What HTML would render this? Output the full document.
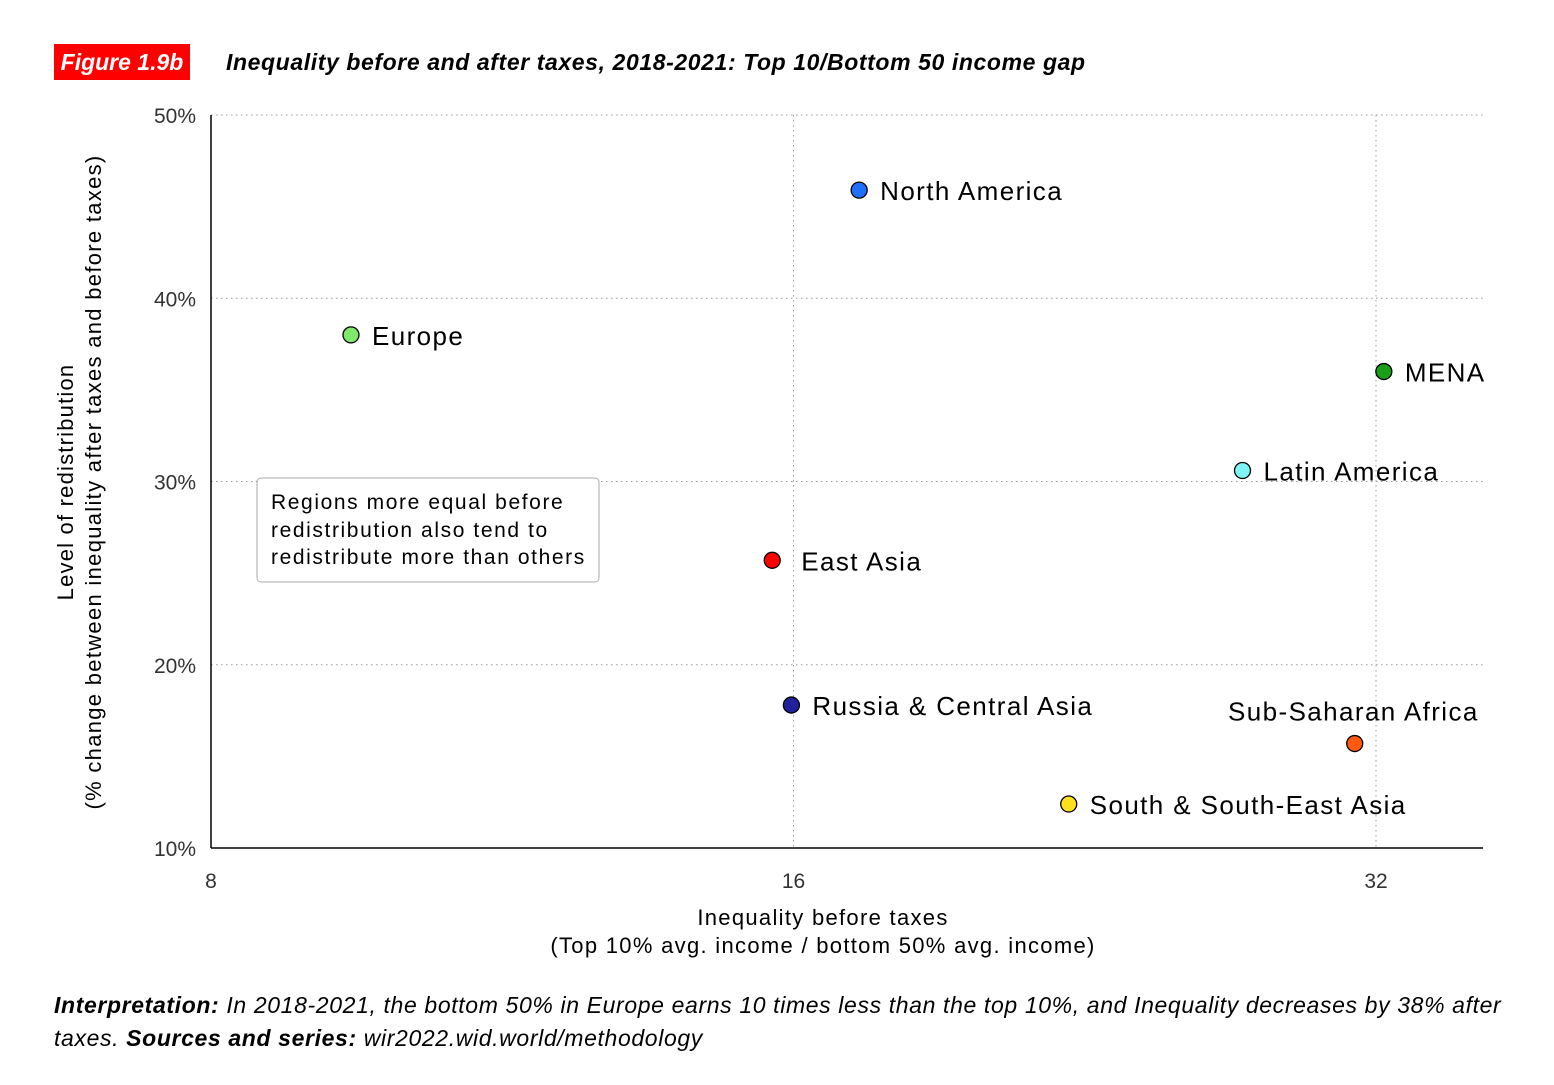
<!DOCTYPE html>
<html><head><meta charset="utf-8"><style>
body{margin:0;background:#fff;width:1554px;height:1085px;overflow:hidden;font-family:"Liberation Sans",sans-serif;}
svg{position:absolute;left:0;top:0}
</style></head><body>
<svg id="chart" width="1554" height="1085">
<rect x="54" y="44" width="136" height="36" fill="#ff0000"/>
<text x="122" y="70" fill="#fff" font-size="23" font-weight="bold" font-style="italic" text-anchor="middle">Figure 1.9b</text>
<text x="226" y="70" fill="#000" font-size="23" font-weight="bold" font-style="italic" letter-spacing="0.6">Inequality before and after taxes, 2018-2021: Top 10/Bottom 50 income gap</text>
<g id="grid"></g><g id="marks"></g>
<text transform="translate(73,482) rotate(-90)" font-size="22" letter-spacing="1.2" text-anchor="middle">Level of redistribution</text>
<text transform="translate(101,482) rotate(-90)" font-size="22" letter-spacing="1.3" text-anchor="middle">(% change between inequality after taxes and before taxes)</text>
<text x="823" y="925" font-size="22" letter-spacing="1.3" text-anchor="middle">Inequality before taxes</text>
<text x="823" y="953" font-size="22" letter-spacing="1.3" text-anchor="middle">(Top 10% avg. income / bottom 50% avg. income)</text>
<rect x="257" y="478" width="342" height="104" rx="4" fill="#fff" stroke="#aaa"/>
<text font-size="21" letter-spacing="1.6"><tspan x="271" y="509">Regions more equal before</tspan><tspan x="271" y="537">redistribution also tend to</tspan><tspan x="271" y="564">redistribute more than others</tspan></text>
<text font-size="23" font-style="italic" letter-spacing="0.63"><tspan x="54" y="1013"><tspan font-weight="bold">Interpretation:</tspan> In 2018-2021, the bottom 50% in Europe earns 10 times less than the top 10%, and Inequality decreases by 38% after</tspan><tspan x="54" y="1046">taxes. <tspan font-weight="bold">Sources and series:</tspan> wir2022.wid.world/methodology</tspan></text>
</svg>
<script>
const regions=["North America","Europe","MENA","Latin America","East Asia","Russia & Central Asia","Sub-Saharan Africa","South & South-East Asia"];
const xValues=[17.3,9.45,32.3,27.3,15.6,15.96,31.2,22.2];
const yValues=[45.9,38.0,36.0,30.6,25.7,17.8,15.7,12.4];
const colors=["#1f6fff","#7ee86a","#1a9e1a","#7ff2f2","#ff0000","#22209a","#ff5a10","#ffe01a"];
const xTicks=[8,16,32];
const yTicks=[10,20,30,40,50];
const NS="http://www.w3.org/2000/svg";
function X(v){return 211+582.5*Math.log2(v/8);}
function Y(v){return 848-(v-10)*733/40;}
function mk(t,a,p){const e=document.createElementNS(NS,t);for(const k in a)e.setAttribute(k,a[k]);p.appendChild(e);return e;}
const g=document.getElementById('grid'),m=document.getElementById('marks');
yTicks.forEach(v=>{
 if(v>10){const l=mk('line',{x1:211,x2:1483,y1:Y(v),y2:Y(v),stroke:'#999','stroke-dasharray':'1.5,3.5'},g);
 
 }
 const t=mk('text',{x:196,y:Y(v)+8,'font-size':21,'text-anchor':'end',fill:'#333'},g);t.textContent=v+'%';
 
 
});
xTicks.forEach(v=>{
 if(v>8){const l=mk('line',{x1:X(v),x2:X(v),y1:115,y2:848,stroke:'#999','stroke-dasharray':'1.5,3.5'},g);
 
 }
 const t=mk('text',{x:X(v),y:888,'font-size':21,'text-anchor':'middle',fill:'#333'},g);t.textContent=v;
 
 
});
const ya=mk('line',{x1:211,x2:211,y1:115,y2:848,stroke:'#000','stroke-width':1.5},g);


const xa=mk('line',{x1:211,x2:1483,y1:848,y2:848,stroke:'#000','stroke-width':1.5},g);


regions.forEach((r,i)=>{
 const cx=X(xValues[i]),cy=Y(yValues[i]);
 const c=mk('circle',{cx:cx,cy:cy,r:8,fill:colors[i],stroke:'#000','stroke-width':1.3},m);
 
 
 let tx=cx+21,ty=cy+10,anc='start';
 if(r==="East Asia"){tx=cx+29;}
 if(r==="Sub-Saharan Africa"){tx=cx+124;ty=cy-23;anc='end';}
 const t=mk('text',{x:tx,y:ty,'font-size':26,'text-anchor':anc,'letter-spacing':'1.4'},m);t.textContent=r;
 
 
});
</script>
</body></html>
